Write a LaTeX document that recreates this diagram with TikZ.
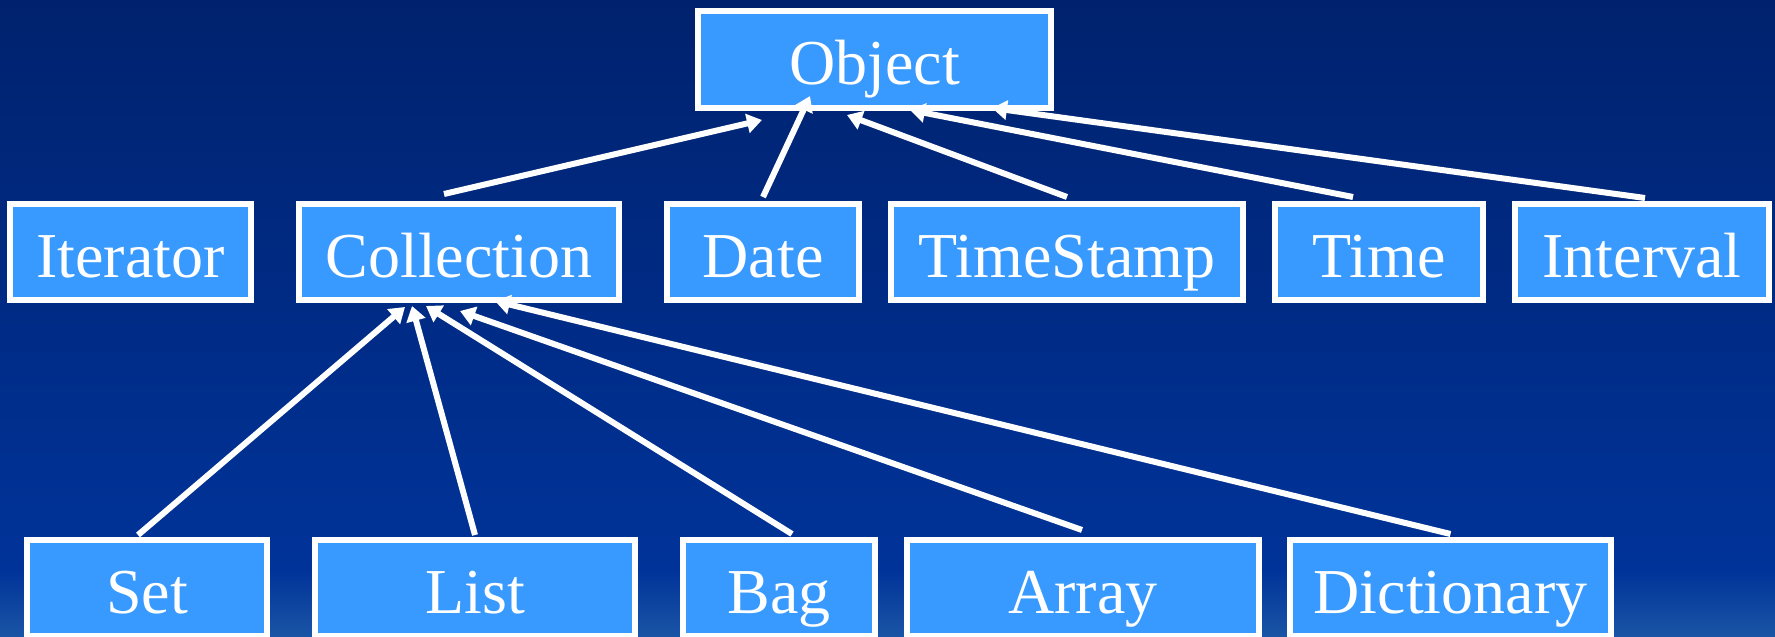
\documentclass[tikz,border=0pt]{standalone}
\usepackage{fontspec}
\IfFontExistsTF{LiberationSerif-Regular.ttf}
  {\newfontfamily\clsfont{LiberationSerif-Regular.ttf}}
  {\newfontfamily\clsfont{Liberation Serif}}
\usetikzlibrary{arrows.meta}
\definecolor{bgtop}{HTML}{00226E}
\definecolor{bgmid}{HTML}{003399}
\definecolor{bgbot}{HTML}{1A55A5}
\definecolor{boxblue}{HTML}{3899FF}
\tikzset{
  cls/.style={draw=white, line width=6pt, fill=boxblue, inner sep=0pt,
    minimum height=96pt, text=white, font=\clsfont\fontsize{64}{70}\selectfont,
    text height=50pt, text depth=0pt},
  inh/.style={draw=white, line width=6pt,
    -{Triangle[length=15pt,width=19pt]}}
}
\begin{document}
\begin{tikzpicture}[x=1pt, y=-1pt]
  \useasboundingbox (0,0) rectangle (1775,637);
  \begin{scope}
  \clip (0,0) rectangle (1775,637);
  % background
  \shade[top color=bgtop, bottom color=bgmid] (0,0) rectangle (1775,570);
  \shade[top color=bgmid, bottom color=bgbot] (0,569) rectangle (1775,637);

  % classes
  \node[cls, minimum width=353pt, minimum height=97pt] (obj) at (874.5,59.5) {Object};

  \node[cls, minimum width=241pt] (iter) at (130.5,252) {Iterator};
  \node[cls, minimum width=320pt] (coll) at (459,252) {Collection};
  \node[cls, minimum width=192pt] (date) at (763,252) {Date};
  \node[cls, minimum width=352pt] (ts)   at (1067,252) {TimeStamp};
  \node[cls, minimum width=208pt] (time) at (1379,252) {Time};
  \node[cls, minimum width=254pt] (intv) at (1642,252) {Interval};

  \node[cls, minimum width=240pt] (set)  at (147,588) {Set};
  \node[cls, minimum width=320pt] (list) at (475,588) {List};
  \node[cls, minimum width=192pt] (bag)  at (779,588) {Bag};
  \node[cls, minimum width=352pt] (arr)  at (1083,588) {Array};
  \node[cls, minimum width=321pt] (dict) at (1450.5,588) {Dictionary};

  % inheritance from Object
  \draw[inh] ([shift={(-15,-7)}]coll.north) -- ([shift={(-112.5,9)}]obj.south);
  \draw[inh] ([shift={(0,-4)}]date.north) -- ([shift={(-64.5,-15)}]obj.south);
  \draw[inh] ([shift={(0,-4)}]ts.north) -- ([shift={(-27.5,4)}]obj.south);
  \draw[inh] ([shift={(-26,-4)}]time.north) -- ([shift={(35.5,-1)}]obj.south);
  \draw[inh] ([shift={(3,-3)}]intv.north) -- ([shift={(117.5,-3)}]obj.south);

  % inheritance from Collection
  \draw[inh] ([shift={(-9,-2)}]set.north) -- ([shift={(-54,4)}]coll.south);
  \draw[inh] ([shift={(0,-2)}]list.north) -- ([shift={(-47,3)}]coll.south);
  \draw[inh] ([shift={(13,-3)}]bag.north) -- ([shift={(-33,3)}]coll.south);
  \draw[inh] ([shift={(-1,-7)}]arr.north) -- ([shift={(1,8)}]coll.south);
  \draw[inh] ([shift={(0,-3)}]dict.north) -- ([shift={(36,-2)}]coll.south);
  \end{scope}
\end{tikzpicture}
\end{document}
